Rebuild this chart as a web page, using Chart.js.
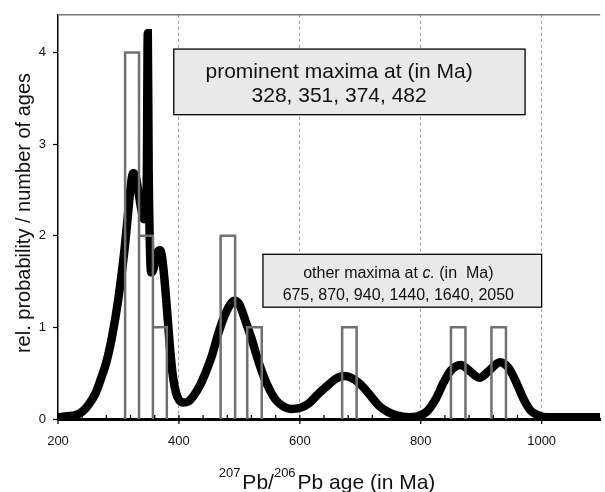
<!DOCTYPE html>
<html>
<head>
<meta charset="utf-8">
<script src="https://cdn.jsdelivr.net/npm/chart.js@4/dist/chart.umd.min.js"></script>
<style>
html,body{margin:0;padding:0;background:#fff;}
</style>
</head>
<body>
<canvas id="canvas__age-spectrum" width="605" height="492"></canvas>
<script>
"use strict"

// probability density curve (age in Ma, rel. probability)
var arrCurveAges = [200,215,228,240,250,262,270,280,290,300,310,316,320,324,328,333,338,342,345,347,348.5,350,352,354,357,361,365,369,372,375,378,382,386,390,395,400,407,415,425,435,445,455,465,475,485,492,500,510,520,530,540,550,560,570,585,600,615,630,645,660,673,685,700,715,730,745,760,780,795,810,825,838,850,866,880,897,912,931,945,958,970,982,995,1010,1040,1097];
var arrCurveProb = [0.02,0.03,0.04,0.08,0.15,0.28,0.42,0.62,0.92,1.32,1.85,2.25,2.52,2.68,2.66,2.48,2.28,2.18,2.22,2.7,4.21,2.7,1.9,1.6,1.62,1.72,1.82,1.84,1.77,1.6,1.38,1.05,0.72,0.47,0.29,0.21,0.18,0.19,0.26,0.37,0.52,0.7,0.93,1.12,1.25,1.29,1.25,1.07,0.88,0.66,0.47,0.32,0.21,0.15,0.11,0.12,0.17,0.27,0.36,0.44,0.47,0.45,0.38,0.27,0.15,0.08,0.04,0.02,0.03,0.08,0.22,0.4,0.53,0.59,0.53,0.45,0.52,0.62,0.56,0.4,0.22,0.09,0.04,0.02,0.02,0.02];

// histogram bins (number of ages)
var arrBinStart = [311,334,357,469,513,670,850,917];
var arrBinEnd   = [334,357,380,493,537,694,874,941];
var arrBinCount = [4,2,1,2,1,1,1,1];

// axes
var arrXTicks  = [200,240,280,320,360,400,440,480,520,560,600,640,680,720,760,800,840,880,920,960,1000,1040,1080];
var arrXLabels = [200,400,600,800,1000];
var arrXGrid   = [400,600,800,1000];
var arrYTicks  = [0,1,2,3,4];

// annotation texts
var arrBoxMainLines  = ["prominent maxima at (in Ma)", "328, 351, 374, 482"];
var arrBoxOtherLine1 = [["other maxima at ", false], ["c.", true], [" (in  Ma)", false]];
var strBoxOtherLine2 = "675, 870, 940, 1440, 1640, 2050";

var FONT = '"Liberation Sans", Arial, Helvetica, sans-serif';

/*
build the point lists the line datasets need
*/
var arrCurvePoints = arrCurveAges.map(function(a, i){ return {x: a, y: arrCurveProb[i]}; });

var arrHistPoints = [];
for (var i = 0; i < arrBinStart.length; i++){
    arrHistPoints.push({x: arrBinStart[i], y: 0});
    arrHistPoints.push({x: arrBinStart[i], y: arrBinCount[i]});
    arrHistPoints.push({x: arrBinEnd[i], y: arrBinCount[i]});
    arrHistPoints.push({x: arrBinEnd[i], y: 0});
    // break the line between rectangles
    arrHistPoints.push({x: arrBinEnd[i], y: null});
}

// grey boxes with text, placed in data units
function drawBox(ctx, xs, ys, x0, x1, y0, y1){
    var l = xs.getPixelForValue(x0), r = xs.getPixelForValue(x1);
    var t = ys.getPixelForValue(y1), b = ys.getPixelForValue(y0);
    ctx.fillStyle = '#e9e9e9';
    ctx.fillRect(l, t, r - l, b - t);
    ctx.strokeStyle = '#000';
    ctx.lineWidth = 1.3;
    ctx.strokeRect(l, t, r - l, b - t);
    return {l: l, r: r, t: t, b: b};
}

var pluginDecor = {
    id: 'decor',
    beforeDatasetsDraw: function(chart){
        var ctx = chart.ctx, xs = chart.scales.x, ys = chart.scales.y, area = chart.chartArea;
        ctx.save();
        // grey frame line on top
        ctx.strokeStyle = '#777';
        ctx.lineWidth = 1.5;
        ctx.beginPath();
        ctx.moveTo(area.left, area.top);
        ctx.lineTo(area.right, area.top);
        ctx.stroke();

        // box with the prominent maxima
        var b1 = drawBox(ctx, xs, ys, 391.5, 972.6, 3.32, 4.036);
        var cx1 = xs.getPixelForValue(665);
        ctx.fillStyle = '#111';
        ctx.font = '21px ' + FONT;
        ctx.textAlign = 'center';
        ctx.textBaseline = 'alphabetic';
        ctx.fillText(arrBoxMainLines[0], cx1, b1.t + 28.5);
        ctx.fillText(arrBoxMainLines[1], cx1, b1.t + 53);

        // box with the other maxima
        var b2 = drawBox(ctx, xs, ys, 539, 1000, 1.22, 1.797);
        var cx2 = xs.getPixelForValue(763);
        ctx.fillStyle = '#111';
        var w = 0;
        arrBoxOtherLine1.forEach(function(seg){
            ctx.font = (seg[1] ? 'italic ' : '') + '16px ' + FONT;
            w += ctx.measureText(seg[0]).width;
        });
        var x = cx2 - w / 2;
        ctx.textAlign = 'left';
        arrBoxOtherLine1.forEach(function(seg){
            ctx.font = (seg[1] ? 'italic ' : '') + '16px ' + FONT;
            ctx.fillText(seg[0], x, b2.t + 23.5);
            x += ctx.measureText(seg[0]).width;
        });
        ctx.font = '16px ' + FONT;
        ctx.textAlign = 'center';
        ctx.fillText(strBoxOtherLine2, cx2, b2.t + 46);
        ctx.restore();
    },
    afterDatasetsDraw: function(chart){
        // x tick marks: minor ones inside, major ones across the axis
        var ctx = chart.ctx, xs = chart.scales.x, area = chart.chartArea;
        ctx.save();
        ctx.strokeStyle = '#000';
        ctx.lineWidth = 1.3;
        arrXTicks.forEach(function(v){
            var px = xs.getPixelForValue(v);
            var boolMajor = arrXLabels.indexOf(v) >= 0;
            ctx.beginPath();
            ctx.moveTo(px, area.bottom - 4);
            ctx.lineTo(px, area.bottom + (boolMajor ? 5 : 0));
            ctx.stroke();
        });
        ctx.restore();
    },
    afterDraw: function(chart){
        var ctx = chart.ctx;
        ctx.save();
        ctx.fillStyle = '#111';
        // y title
        ctx.translate(24, 213);
        ctx.rotate(-Math.PI / 2);
        ctx.font = '20px ' + FONT;
        ctx.textAlign = 'center';
        ctx.textBaseline = 'middle';
        ctx.fillText('rel. probability / number of ages', 0, 0);
        ctx.restore();

        // x title with superscripts
        ctx.save();
        ctx.fillStyle = '#111';
        ctx.textBaseline = 'alphabetic';
        ctx.textAlign = 'left';
        var parts = [['207', true], ['Pb/', false], ['206', true], ['Pb age (in Ma)', false]];
        var total = 0;
        parts.forEach(function(p){
            ctx.font = (p[1] ? '13px ' : '21px ') + FONT;
            total += ctx.measureText(p[0]).width + (p[1] ? 2 : 0);
        });
        var x = 327 - total / 2;
        parts.forEach(function(p){
            ctx.font = (p[1] ? '13px ' : '21px ') + FONT;
            ctx.fillText(p[0], x, p[1] ? 477 : 488.5);
            x += ctx.measureText(p[0]).width + (p[1] ? 2 : 0);
        });
        ctx.restore();
    }
};

var chart = new Chart('canvas__age-spectrum', {
    type: 'line',
    data: {
        datasets: [
            {
                data: arrHistPoints,
                borderColor: '#707070',
                borderWidth: 2.5,
                tension: 0,
                spanGaps: false,
                pointRadius: 0,
                fill: false,
                order: 0
            },
            {
                data: arrCurvePoints,
                borderColor: '#000',
                borderWidth: 8.5,
                cubicInterpolationMode: 'monotone',
                pointRadius: 0,
                fill: false,
                order: 1
            }
        ]
    },
    options: {
        responsive: false,
        animation: false,
        layout: {padding: {top: 13, left: 0, right: 0, bottom: 0}},
        plugins: {legend: {display: false}, tooltip: {enabled: false}},
        scales: {
            x: {
                type: 'linear',
                min: 200,
                max: 1097,
                afterFit: function(s){ s.height = 73; },
                afterBuildTicks: function(s){ s.ticks = arrXTicks.map(function(v){ return {value: v}; }); },
                ticks: {
                    autoSkip: false,
                    maxRotation: 0,
                    padding: 15,
                    color: '#111',
                    font: {family: FONT, size: 13},
                    callback: function(v){ return arrXLabels.indexOf(v) >= 0 ? String(v) : ''; }
                },
                grid: {
                    drawTicks: false,
                    lineWidth: 1,
                    color: function(c){
                        return (c.tick && arrXGrid.indexOf(c.tick.value) >= 0) ? '#9a9a9a' : 'rgba(0,0,0,0)';
                    }
                },
                border: {display: true, color: '#000', width: 3, dash: [3, 3]}
            },
            y: {
                min: 0,
                max: 4.41,
                afterFit: function(s){ s.width = 58; },
                afterBuildTicks: function(s){ s.ticks = arrYTicks.map(function(v){ return {value: v}; }); },
                ticks: {
                    padding: 7,
                    color: '#111',
                    font: {family: FONT, size: 13}
                },
                grid: {
                    drawOnChartArea: false,
                    drawTicks: true,
                    tickLength: 5,
                    tickColor: '#000',
                    tickWidth: 1.2
                },
                border: {display: true, color: '#000', width: 1.5}
            }
        }
    },
    plugins: [pluginDecor]
});
</script>
</body>
</html>
